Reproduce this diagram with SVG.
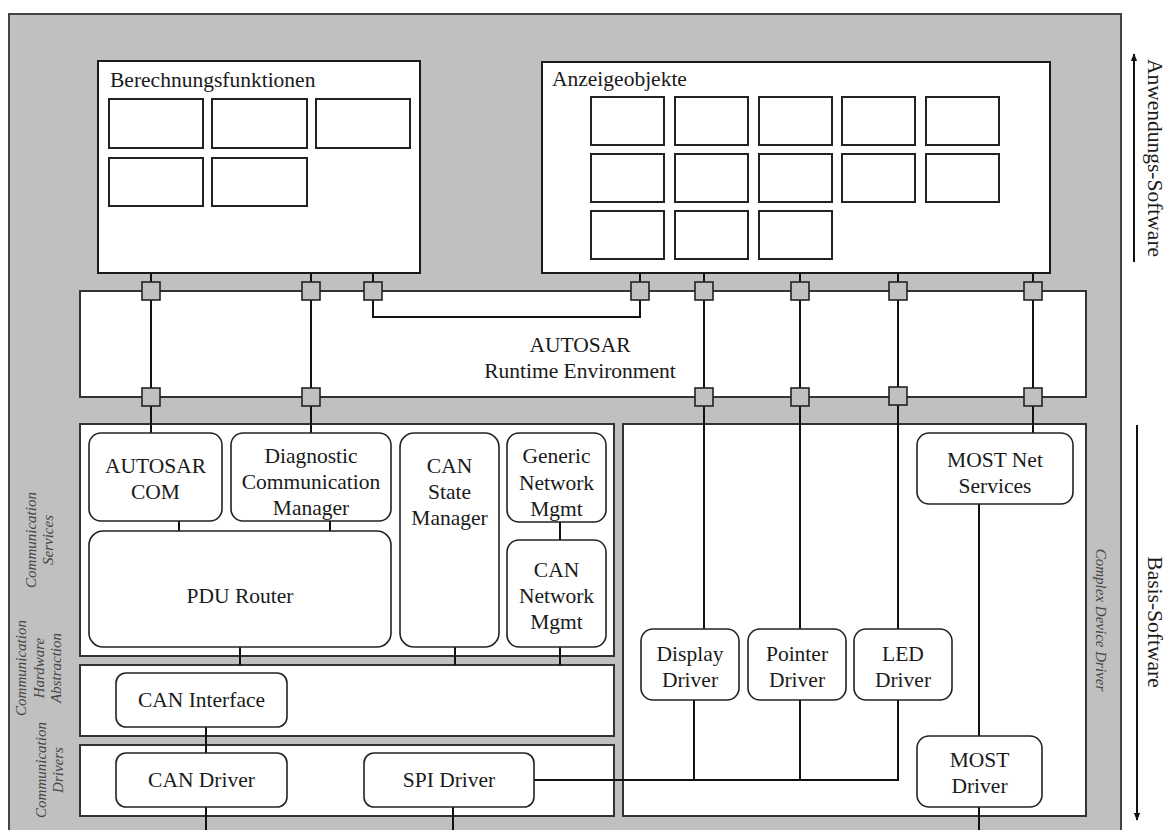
<svg xmlns="http://www.w3.org/2000/svg" width="1168" height="830" viewBox="0 0 1168 830">
<defs>
<style>
.bg{fill:#ffffff}
.outer{fill:#c0c0c0;stroke:#444;stroke-width:2}
.box{fill:#fff;stroke:#1a1a1a;stroke-width:2}
.layer{fill:#fff;stroke:#333;stroke-width:2}
.rbox{fill:#fff;stroke:#222;stroke-width:1.6}
.small{fill:#fff;stroke:#222;stroke-width:2}
.port{fill:#c0c0c0;stroke:#222;stroke-width:1.6}
.ln{fill:none;stroke:#111;stroke-width:2}
.t{font-family:"Liberation Serif","Times New Roman",serif;font-size:21.5px;fill:#1a1a1a}
.c{text-anchor:middle}
.it{font-family:"Liberation Serif","Times New Roman",serif;font-style:italic;font-size:15px;fill:#444;text-anchor:middle}
.side{font-family:"Liberation Serif","Times New Roman",serif;font-size:21.5px;fill:#1a1a1a;text-anchor:middle}
</style>
<marker id="ah" viewBox="0 0 10 10" refX="9" refY="5" markerWidth="8" markerHeight="8" orient="auto" markerUnits="userSpaceOnUse">
<path d="M0,1 L10,5 L0,9 z" fill="#111"/>
</marker>
</defs>
<rect class="bg" x="0" y="0" width="1168" height="830"/>
<rect id="frame" class="outer" x="9" y="14" width="1112" height="830"/>

<g id="berechnungsfunktionen">
<rect class="box" x="98" y="61" width="322" height="212"/>
<text class="t" x="110" y="87">Berechnungsfunktionen</text>
<rect class="small" x="109" y="99" width="94" height="49"/>
<rect class="small" x="212" y="99" width="95" height="49"/>
<rect class="small" x="316" y="99" width="94" height="49"/>
<rect class="small" x="109" y="158" width="94" height="48"/>
<rect class="small" x="212" y="158" width="95" height="48"/>
</g>

<g id="anzeigeobjekte">
<rect class="box" x="542" y="62" width="508" height="211"/>
<text class="t" x="552" y="86">Anzeigeobjekte</text>
<rect class="small" x="591" y="97" width="73" height="48"/>
<rect class="small" x="675" y="97" width="73" height="48"/>
<rect class="small" x="759" y="97" width="73" height="48"/>
<rect class="small" x="842" y="97" width="73" height="48"/>
<rect class="small" x="926" y="97" width="73" height="48"/>
<rect class="small" x="591" y="154" width="73" height="48"/>
<rect class="small" x="675" y="154" width="73" height="48"/>
<rect class="small" x="759" y="154" width="73" height="48"/>
<rect class="small" x="842" y="154" width="73" height="48"/>
<rect class="small" x="926" y="154" width="73" height="48"/>
<rect class="small" x="591" y="211" width="73" height="48"/>
<rect class="small" x="675" y="211" width="73" height="48"/>
<rect class="small" x="759" y="211" width="73" height="48"/>
</g>

<g id="rte">
<rect class="layer" x="80" y="291" width="1006" height="106"/>
<text class="t c" x="580" y="352">AUTOSAR</text>
<text class="t c" x="580" y="378">Runtime Environment</text>
</g>

<g id="communication-services">
<rect class="layer" x="80" y="424" width="534" height="232"/>
</g>
<g id="communication-hw-abstraction">
<rect class="layer" x="80" y="665" width="534" height="71"/>
</g>
<g id="communication-drivers">
<rect class="layer" x="80" y="745" width="534" height="71"/>
</g>
<g id="complex-device-driver">
<rect class="layer" x="623" y="424" width="463" height="392"/>
</g>

<g id="connectors">
<!-- app to RTE stubs and through lines -->
<path class="ln" d="M151,273 V433"/>
<path class="ln" d="M311,273 V433"/>
<path class="ln" d="M373,273 V317 H640 V273"/>
<path class="ln" d="M704,273 V629"/>
<path class="ln" d="M800,273 V629"/>
<path class="ln" d="M898,273 V629"/>
<path class="ln" d="M1033,273 V433"/>
<!-- services internal -->
<path class="ln" d="M179,521 V531"/>
<path class="ln" d="M330,521 V531"/>
<path class="ln" d="M560,522 V540"/>
<path class="ln" d="M240,647 V665"/>
<path class="ln" d="M455,647 V665"/>
<path class="ln" d="M560,647 V665"/>
<path class="ln" d="M206,727 V753"/>
<path class="ln" d="M206,807 V830"/>
<path class="ln" d="M453,807 V830"/>
<!-- SPI bus to drivers -->
<path class="ln" d="M534,780 H898 V700"/>
<path class="ln" d="M694,700 V780"/>
<path class="ln" d="M800,700 V780"/>
<!-- MOST -->
<path class="ln" d="M979,504 V736"/>
<path class="ln" d="M979,807 V830"/>
<!-- ports -->
<rect class="port" x="142" y="282" width="18" height="18"/>
<rect class="port" x="302" y="282" width="18" height="18"/>
<rect class="port" x="364" y="282" width="18" height="18"/>
<rect class="port" x="631" y="282" width="18" height="18"/>
<rect class="port" x="695" y="282" width="18" height="18"/>
<rect class="port" x="791" y="282" width="18" height="18"/>
<rect class="port" x="889" y="282" width="18" height="18"/>
<rect class="port" x="1024" y="282" width="18" height="18"/>
<rect class="port" x="142" y="388" width="18" height="18"/>
<rect class="port" x="302" y="388" width="18" height="18"/>
<rect class="port" x="695" y="388" width="18" height="18"/>
<rect class="port" x="791" y="388" width="18" height="18"/>
<rect class="port" x="889" y="387" width="18" height="18"/>
<rect class="port" x="1024" y="388" width="18" height="18"/>
</g>

<g id="autosar-com">
<rect class="rbox" x="89" y="433" width="133" height="88" rx="12"/>
<text class="t c" x="155.5" y="473">AUTOSAR</text>
<text class="t c" x="155.5" y="499">COM</text>
</g>
<g id="diagnostic-communication-manager">
<rect class="rbox" x="231" y="433" width="160" height="88" rx="12"/>
<text class="t c" x="311" y="463">Diagnostic</text>
<text class="t c" x="311" y="489">Communication</text>
<text class="t c" x="311" y="515">Manager</text>
</g>
<g id="pdu-router">
<rect class="rbox" x="89" y="531" width="302" height="116" rx="14"/>
<text class="t c" x="240" y="603">PDU Router</text>
</g>
<g id="can-state-manager">
<rect class="rbox" x="400" y="433" width="99" height="214" rx="14"/>
<text class="t c" x="449.5" y="473">CAN</text>
<text class="t c" x="449.5" y="499">State</text>
<text class="t c" x="449.5" y="525">Manager</text>
</g>
<g id="generic-network-mgmt">
<rect class="rbox" x="507" y="433" width="99" height="89" rx="12"/>
<text class="t c" x="556.5" y="463">Generic</text>
<text class="t c" x="556.5" y="490">Network</text>
<text class="t c" x="556.5" y="516">Mgmt</text>
</g>
<g id="can-network-mgmt">
<rect class="rbox" x="507" y="540" width="99" height="107" rx="12"/>
<text class="t c" x="556.5" y="577">CAN</text>
<text class="t c" x="556.5" y="603">Network</text>
<text class="t c" x="556.5" y="629">Mgmt</text>
</g>
<g id="can-interface">
<rect class="rbox" x="116" y="673" width="171" height="54" rx="10"/>
<text class="t c" x="201.5" y="707">CAN Interface</text>
</g>
<g id="can-driver">
<rect class="rbox" x="116" y="753" width="171" height="54" rx="10"/>
<text class="t c" x="201.5" y="787">CAN Driver</text>
</g>
<g id="spi-driver">
<rect class="rbox" x="364" y="753" width="170" height="54" rx="10"/>
<text class="t c" x="449" y="787">SPI Driver</text>
</g>
<g id="most-net-services">
<rect class="rbox" x="917" y="433" width="156" height="71" rx="12"/>
<text class="t c" x="995" y="467">MOST Net</text>
<text class="t c" x="995" y="493">Services</text>
</g>
<g id="display-driver">
<rect class="rbox" x="641" y="629" width="98" height="71" rx="12"/>
<text class="t c" x="690" y="661">Display</text>
<text class="t c" x="690" y="687">Driver</text>
</g>
<g id="pointer-driver">
<rect class="rbox" x="748" y="629" width="98" height="71" rx="12"/>
<text class="t c" x="797" y="661">Pointer</text>
<text class="t c" x="797" y="687">Driver</text>
</g>
<g id="led-driver">
<rect class="rbox" x="854" y="629" width="98" height="71" rx="12"/>
<text class="t c" x="903" y="661">LED</text>
<text class="t c" x="903" y="687">Driver</text>
</g>
<g id="most-driver">
<rect class="rbox" x="917" y="736" width="125" height="71" rx="12"/>
<text class="t c" x="979.5" y="767">MOST</text>
<text class="t c" x="979.5" y="793">Driver</text>
</g>

<g id="layer-labels">
<text class="it" transform="translate(36,540) rotate(-90)">Communication</text>
<text class="it" transform="translate(53,540) rotate(-90)">Services</text>
<text class="it" transform="translate(26,668) rotate(-90)">Communication</text>
<text class="it" transform="translate(44,668) rotate(-90)">Hardware</text>
<text class="it" transform="translate(61,668) rotate(-90)">Abstraction</text>
<text class="it" transform="translate(46,770) rotate(-90)">Communication</text>
<text class="it" transform="translate(63,770) rotate(-90)">Drivers</text>
<text class="it" transform="translate(1096,620) rotate(90)">Complex Device Driver</text>
</g>

<g id="side-labels">
<path class="ln" d="M1134,262 V54" stroke-width="1.6" marker-end="url(#ah)"/>
<text class="side" transform="translate(1148,158) rotate(90)">Anwendungs-Software</text>
<path class="ln" d="M1137,425 V820" stroke-width="1.6" marker-end="url(#ah)"/>
<text class="side" transform="translate(1148,622) rotate(90)">Basis-Software</text>
</g>
</svg>
